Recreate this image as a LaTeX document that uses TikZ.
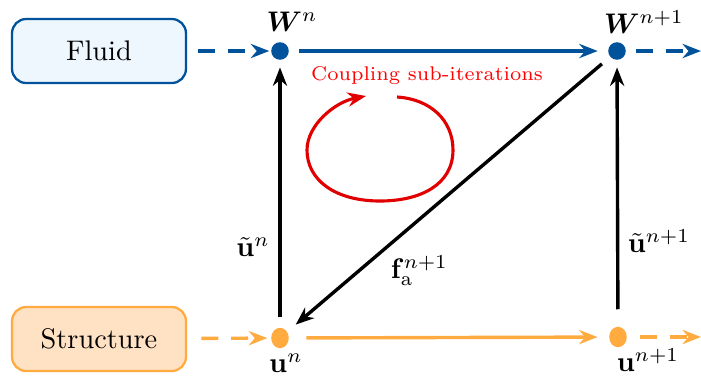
\documentclass[tikz,border=0pt]{standalone}
\usepackage{amsmath,amssymb,bm}
\usetikzlibrary{arrows.meta, positioning, calc, shapes.geometric}
\definecolor{flblue}{HTML}{00529B}
\definecolor{flfill}{HTML}{EEF6FE}
\definecolor{storange}{HTML}{FFAB40}
\definecolor{stfill}{HTML}{FFE2C4}
\definecolor{loopred}{HTML}{E10000}

\begin{document}
\begin{tikzpicture}[
  x=0.353pt, y=-0.353pt,
  >={Stealth[length=6.5pt, width=5pt]},
  solverbox/.style={
    draw=#1, line width=0.8pt, fill=#1!8, rounded corners=5pt,
    minimum width=61.4pt, minimum height=22.6pt, inner sep=0pt
  },
  dotnode/.style={ellipse, fill=#1, inner sep=0pt,
    minimum width=6.2pt, minimum height=6.2pt},
  arr/.style={->, line width=1.2pt},
  darr/.style={->, line width=1.2pt, dash pattern=on 6pt off 4.5pt},
  lbl/.style={font=\normalsize, inner sep=1pt},
]

% Frame
\useasboundingbox (0,0) rectangle (701,379);

% =============================================
% Fluid row
% =============================================
\node[solverbox=flblue, fill=flfill] (fluid) at (99,51) {Fluid};
\node[dotnode=flblue] (Wn) at (280,51) {};
\node[dotnode=flblue] (Wn1) at (617,51) {};
\coordinate (Wout) at (701,51);

\node[lbl] (WnLbl) at (292,22) {$\boldsymbol{W}^{n}$};
\node[lbl] (Wn1Lbl) at (644,22) {$\boldsymbol{W}^{n+1}$};

% =============================================
% Structure row
% =============================================
\node[solverbox=storange, fill=stfill] (struct) at (99,339) {Structure};
\node[dotnode=storange, minimum height=7.2pt] (un) at (280,338) {};
\node[dotnode=storange, minimum height=7.2pt] (un1) at (618,337) {};
\coordinate (uout) at (701,337);

\node[lbl] (unLbl) at (286,363) {$\mathbf{u}^{n}$};
\node[lbl] (un1Lbl) at (648,360) {$\mathbf{u}^{n+1}$};

% =============================================
% Time advance (horizontal)
% =============================================
\draw[darr, flblue, shorten <=3.9pt, shorten >=0.5pt] (fluid) -- (Wn);
\draw[arr, flblue, shorten <=3.5pt, shorten >=3.5pt] (Wn) -- (Wn1);
\draw[darr, flblue, shorten <=3.5pt] (Wn1) -- (Wout);

\draw[darr, storange, shorten <=5pt, shorten >=1.2pt] (struct) -- (un);
\draw[arr, storange, shorten <=6pt, shorten >=3.9pt] (un) -- (un1);
\draw[darr, storange, shorten <=4.6pt] (un1) -- (uout);

% =============================================
% Coupling (vertical, diagonal)
% =============================================
\draw[arr, black, shorten <=3.5pt, shorten >=2.5pt] (un) -- (Wn)
  node[pos=0.3, left=2pt, lbl, name=utLbl] {$\tilde{\mathbf{u}}^{n}$};

\draw[arr, black, shorten <=6pt, shorten >=2.5pt] (un1) -- (Wn1)
  node[pos=0.32, right=2pt, lbl, name=ut1Lbl] {$\tilde{\mathbf{u}}^{n+1}$};

\draw[arr, black, shorten <=3.7pt, shorten >=3.8pt] (Wn1) -- (un)
  node[pos=0.7, below right=1pt, lbl, name=fLbl] {$\mathbf{f}_{\mathrm{a}}^{n+1}$};

% Sub-iteration loop
\draw[->, loopred, line width=1.1pt]
  (397,97) .. controls (430,99) and (453,120) .. (453,150)
  .. controls (453,185) and (420,201) .. (380,201)
  .. controls (335,201) and (307,180) .. (307,150)
  .. controls (307,125) and (335,102) .. (366,96);

\node[font=\scriptsize, text=red] (loopLbl) at (427,76)
  {Coupling sub-iterations};

\end{tikzpicture}
\end{document}
